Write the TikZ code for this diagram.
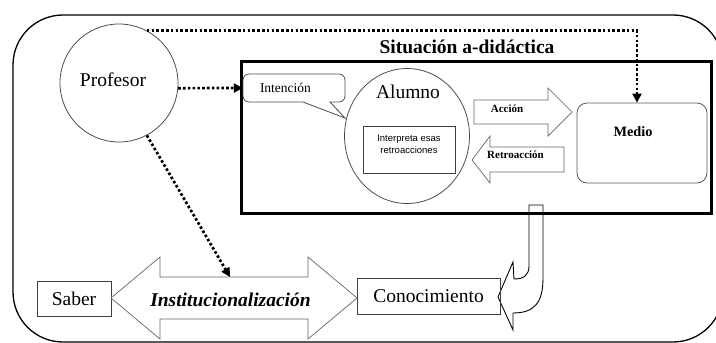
\documentclass[tikz,border=0pt]{standalone}
\usepackage{fontspec}
\setmainfont{Liberation Serif}
\setsansfont{Liberation Sans}
\usetikzlibrary{arrows.meta,shapes.geometric}

\begin{document}
\begin{tikzpicture}[x=1pt,y=-1pt,
    big/.style={font=\fontsize{19.5}{22}\selectfont},
    dotline/.style={line width=2.7pt,dash pattern=on 2.6pt off 2.2pt,-{Triangle[length=9pt,width=9pt]}},
    box/.style={draw=black!75,line width=0.8pt,rectangle,inner sep=0pt},
    bigarrow/.style={draw=black!60,line width=0.7pt,fill=white},
    small/.style={font=\fontsize{11}{13}\selectfont\bfseries}]
    \useasboundingbox (0,0) rectangle (716,343);

    % Frame
    \draw[line width=1.3pt,rounded corners=50pt] (13,15) rectangle (723,342);

    % Bent arrow out of the situation
    \draw[bigarrow,draw=black,line width=0.9pt] (529,205) -- (529,266)
        .. controls (529,275) and (524,279) .. (514,279) -- (513,262) -- (498,297)
        -- (513,330) -- (513,313) .. controls (535,313) and (543,302) .. (543,278)
        -- (543,205) -- cycle;

    % Situation box
    \node[draw,line width=3pt,minimum width=470pt,minimum height=152pt,inner sep=0pt] (sit) at (476.5,137.5) {};
    \node[font={\fontsize{19.5}{22}\selectfont\bfseries}] (sittitle) at (467,47) {Situación a-didáctica};

    % Profesor
    \node[circle,draw=black!70,line width=0.8pt,minimum size=118pt,inner sep=0pt] (prof) at (119,83) {};
    \node[big] (proftxt) at (113,80) {Profesor};

    % Alumno
    \node[ellipse,draw=black!70,line width=0.8pt,minimum width=125pt,minimum height=135pt,inner sep=0pt] (alumno) at (407,136) {};
    \node[big] (alumnotxt) at (408,92) {Alumno};
    \node[box,minimum width=92pt,minimum height=47pt] (interp) at (409,149.5) {};
    \node[font=\sffamily\fontsize{9.5}{12}\selectfont,align=center] (interptxt) at (409,144) {Interpreta esas\\retroacciones};

    % Intencion
    \node[minimum width=102pt,minimum height=28pt,text width=68pt,inner xsep=0pt,align=left,font=\fontsize{13.5}{16}\selectfont] (intencion) at (294,88) {Intención};
    \draw[draw=black!70,line width=0.8pt] {[rounded corners=6pt] (303,102) -- (243,102) -- (243,74) -- (345,74) -- (345,102)} -- (330,102) -- (345,118) -- cycle;

    % Medio
    \node[draw=black!65,line width=0.8pt,rounded corners=10pt,minimum width=130pt,minimum height=80pt] (medio) at (642,143) {};
    \node[font={\fontsize{14.3}{17}\selectfont\bfseries}] (mediotxt) at (633,132) {Medio};

    % Accion and Retroaccion
    \draw[bigarrow] (474,100) -- (548,100) -- (548,88) -- (572,112) -- (548,136) -- (548,124) -- (474,124) -- cycle;
    \node[small] (accion) at (507,109) {Acción};
    \draw[bigarrow] (564,147) -- (490,147) -- (490,136) -- (472,160) -- (490,183) -- (490,172) -- (564,172) -- cycle;
    \node[small] (retro) at (515.5,155) {Retroacción};

    % Bottom row
    \node[box,minimum width=74pt,minimum height=35pt,big] (saber) at (74,298.5) {Saber};
    \node[box,minimum width=143pt,minimum height=36pt,big] (conoc) at (428.5,296) {Conocimiento};
    \draw[bigarrow] (111,298) -- (160,257) -- (160,277) -- (308,277) -- (308,257) -- (357,298)
        -- (308,339) -- (308,319) -- (160,319) -- (160,339) -- cycle;
    \node[font={\fontsize{19.5}{22}\selectfont\bfseries\itshape}] (inst) at (230.5,300) {Institucionalización};
    \coordinate (insttop) at (230,277);

    % Dotted arrows from Profesor
    \draw[dotline] (prof.62) -| ([xshift=-5pt]medio.north);
    \draw[dotline] (prof.-5) -- (intencion.west);
    \draw[dotline] (prof.-62) -- (insttop);
\end{tikzpicture}
\end{document}
